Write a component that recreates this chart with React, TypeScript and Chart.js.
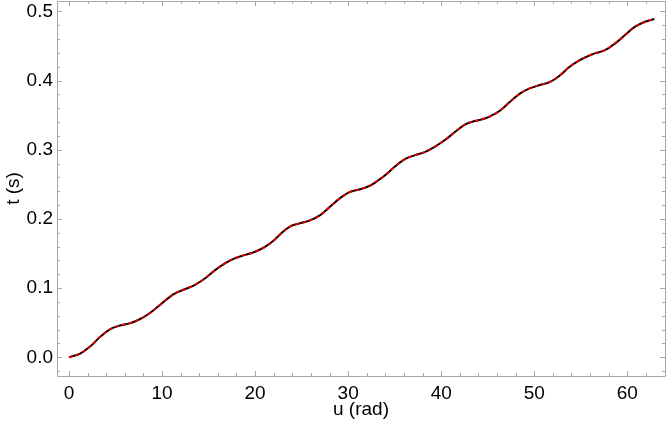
import React, { useEffect, useRef } from "react";
import { Chart, registerables } from "chart.js";

Chart.register(...registerables);

// u (rad) sample positions
const uValues = [
  0, 1.2, 2.3, 3.3, 4.4, 5.5, 6.5, 7.6, 8.7, 9.8, 10.8, 11.4, 12.5, 13.5, 14.6,
  15.7, 16.8, 17.8, 18.9, 20.0, 21.1, 22.1, 22.7, 23.75, 24.8, 25.9, 27.0,
  28.05, 29.1, 30.2, 31.3, 32.35, 33.35, 34.0, 35.0, 36.1, 37.2, 38.3, 39.3,
  40.4, 41.5, 42.6, 43.6, 44.4, 45.2, 46.3, 47.4, 48.5, 49.5, 50.6, 51.7, 52.8,
  53.8, 54.9, 55.9, 56.5, 57.6, 58.7, 59.75, 60.8, 61.9, 62.9,
];
// t (s) values
const tValues = [
  0, 0.0055, 0.016, 0.029, 0.0405, 0.046, 0.049, 0.055, 0.064, 0.076, 0.087,
  0.0925, 0.0987, 0.1045, 0.114, 0.126, 0.136, 0.143, 0.148, 0.1526, 0.16,
  0.17, 0.178, 0.189, 0.1936, 0.198, 0.2056, 0.2176, 0.2298, 0.239, 0.243,
  0.248, 0.257, 0.2634, 0.2754, 0.2865, 0.2923, 0.297, 0.3043, 0.314, 0.326,
  0.3367, 0.3415, 0.344, 0.348, 0.3564, 0.3694, 0.3815, 0.3887, 0.3935, 0.398,
  0.408, 0.42, 0.4296, 0.436, 0.4393, 0.444, 0.4538, 0.4658, 0.4777, 0.485,
  0.489,
];

const xTicks = [0, 10, 20, 30, 40, 50, 60];
const yTicks = [0, 0.1, 0.2, 0.3, 0.4, 0.5];
const xMinorStep = 2;
const yMinorStep = 0.02;
const xRange = [-1.29, 64.05];
const yRange = [-0.027, 0.515];
const xTitle = "u (rad)";
const yTitle = "t (s)";

const FONT = "'Liberation Sans', Arial, sans-serif";

const framePlugin = {
  id: "frameTicks",
  afterDraw(chart: any) {
    const { ctx, chartArea } = chart;
    const { left, right, top, bottom } = chartArea;
    const xs = chart.scales.x;
    const ys = chart.scales.y;
    ctx.save();
    ctx.strokeStyle = "#a8a8a8";
    ctx.lineWidth = 1;
    ctx.beginPath();
    ctx.rect(Math.round(left) + 0.5, Math.round(top) + 0.5, Math.round(right - left), Math.round(bottom - top));
    ctx.stroke();
    const major = 5;
    const minor = 3;
    ctx.beginPath();
    const xStart = Math.ceil(xRange[0] / xMinorStep) * xMinorStep;
    for (let v = xStart; v <= xRange[1] + 1e-9; v += xMinorStep) {
      const isMajor = Math.abs(v % 10) < 1e-9;
      const len = isMajor ? major : minor;
      const px = Math.round(xs.getPixelForValue(v)) + 0.5;
      ctx.moveTo(px, bottom);
      ctx.lineTo(px, bottom - len);
      ctx.moveTo(px, top);
      ctx.lineTo(px, top + len);
    }
    const yStart = Math.ceil(yRange[0] / yMinorStep);
    for (let i = yStart; i * yMinorStep <= yRange[1] + 1e-9; i++) {
      const v = i * yMinorStep;
      const isMajor = i % 5 === 0;
      const len = isMajor ? major : minor;
      const py = Math.round(ys.getPixelForValue(v)) + 0.5;
      ctx.moveTo(left, py);
      ctx.lineTo(left + len, py);
      ctx.moveTo(right, py);
      ctx.lineTo(right - len, py);
    }
    ctx.stroke();
    ctx.restore();
  },
};

export default function App() {
  const ref = useRef<HTMLCanvasElement | null>(null);
  useEffect(() => {
    if (!ref.current) return;
    const points = uValues.map((u, i) => ({ x: u, y: tValues[i] }));
    const chart = new Chart(ref.current, {
      type: "line",
      data: {
        datasets: [
          {
            data: points,
            borderColor: "#e00000",
            borderWidth: 2,
            borderDash: [4, 3],
            pointRadius: 0,
            tension: 0.4,
            fill: false,
          },
          {
            data: points,
            borderColor: "#000000",
            borderWidth: 2,
            pointRadius: 0,
            tension: 0.4,
            fill: false,
          },
        ],
      },
      options: {
        animation: false,
        responsive: true,
        maintainAspectRatio: false,
        layout: { padding: { top: 1, right: 2, left: 0, bottom: 0 } },
        plugins: { legend: { display: false }, tooltip: { enabled: false } },
        scales: {
          x: {
            type: "linear",
            min: xRange[0],
            max: xRange[1],
            grid: { display: false, drawTicks: false, tickLength: 0 },
            border: { display: false },
            afterBuildTicks: (s: any) => {
              s.ticks = xTicks.map((v) => ({ value: v }));
            },
            afterFit: (s: any) => {
              s.height = 54;
              s.paddingLeft = 0;
              s.paddingRight = 0;
            },
            ticks: {
              padding: 6,
              color: "#000",
              font: { family: FONT, size: 19 },
              callback: (v: any) => String(v),
              maxRotation: 0,
              autoSkip: false,
            },
            title: {
              display: true,
              text: xTitle,
              color: "#000",
              font: { family: FONT, size: 19 },
              padding: { top: 0, bottom: 9 },
            },
          },
          y: {
            type: "linear",
            min: yRange[0],
            max: yRange[1],
            grid: { display: false, drawTicks: false, tickLength: 0 },
            border: { display: false },
            afterBuildTicks: (s: any) => {
              s.ticks = yTicks.map((v) => ({ value: v }));
            },
            afterFit: (s: any) => {
              s.width = 57;
              s.paddingTop = 0;
              s.paddingBottom = 0;
            },
            ticks: {
              padding: 4,
              color: "#000",
              font: { family: FONT, size: 19 },
              callback: (v: any) => Number(v).toFixed(1),
              autoSkip: false,
            },
            title: {
              display: true,
              text: yTitle,
              color: "#000",
              font: { family: FONT, size: 19 },
              padding: { top: 2, bottom: 0 },
            },
          },
        },
      },
      plugins: [framePlugin],
    } as any);
    return () => chart.destroy();
  }, []);
  return (
    <div style={{ position: "fixed", left: 0, top: 0, width: 667, height: 430, background: "#fff" }}>
      <canvas ref={ref} />
    </div>
  );
}
